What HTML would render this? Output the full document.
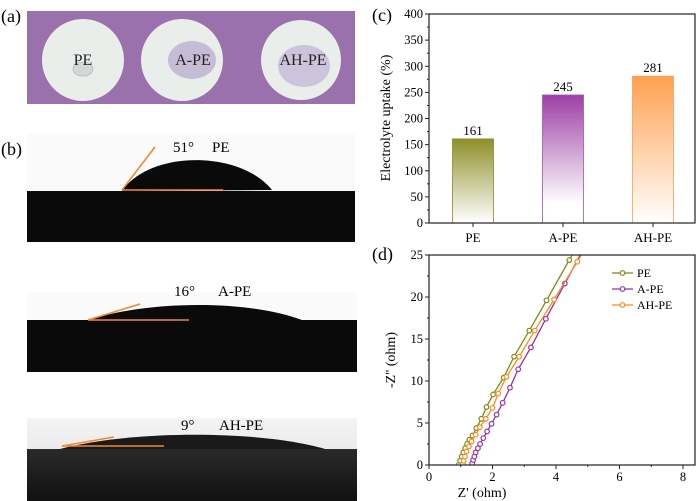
<!DOCTYPE html>
<html><head><meta charset="utf-8"><style>
body{margin:0;background:#fff;}
svg{display:block;font-family:"Liberation Serif",serif;}
</style></head><body>
<svg id="fig" width="700" height="501" viewBox="0 0 700 501" xmlns="http://www.w3.org/2000/svg">
<defs>
<linearGradient id="gPE" x1="0" y1="0" x2="0" y2="1"><stop offset="0" stop-color="#8f8f2a"/><stop offset="1" stop-color="#ffffff"/></linearGradient>
<linearGradient id="gA" x1="0" y1="0" x2="0" y2="1"><stop offset="0" stop-color="#9d3fa6"/><stop offset="0.85" stop-color="#ffffff"/></linearGradient>
<linearGradient id="gAH" x1="0" y1="0" x2="0" y2="1"><stop offset="0" stop-color="#ffa050"/><stop offset="1" stop-color="#ffffff"/></linearGradient>
<linearGradient id="gBg3" x1="0" y1="0" x2="0" y2="1"><stop offset="0" stop-color="#f4f4f4"/><stop offset="1" stop-color="#dcdcdc"/></linearGradient>
<linearGradient id="gBlk3" x1="0" y1="0" x2="0" y2="1"><stop offset="0" stop-color="#2a2a2a"/><stop offset="1" stop-color="#111"/></linearGradient>
<clipPath id="clipD"><rect x="429" y="255" width="266" height="210"/></clipPath>
</defs>

<text x="1" y="22" font-size="18">(a)</text>
<g>
<rect x="27" y="11" width="328" height="93" fill="#9a70ad"/>
<circle cx="83" cy="60" r="41" fill="#e9eeeb"/>
<circle cx="182" cy="60" r="41" fill="#e9eeeb"/>
<circle cx="301" cy="60" r="40" fill="#e9eeeb"/>
<ellipse cx="83" cy="69" rx="10" ry="7" fill="#d2d7d7" stroke="#aab" stroke-width="0.6"/>
<ellipse cx="192" cy="60" rx="24" ry="19" fill="#c6bcd6"/>
<ellipse cx="304" cy="66" rx="26" ry="21" fill="#cdc4dc"/>
<text x="83" y="65" font-size="16" text-anchor="middle" fill="#222">PE</text>
<text x="193" y="65" font-size="16" text-anchor="middle" fill="#222">A-PE</text>
<text x="303" y="65" font-size="16" text-anchor="middle" fill="#222">AH-PE</text>
</g>

<text x="1" y="155" font-size="18">(b)</text>
<g>
<rect x="27" y="134" width="328" height="108" fill="#fafafa"/>
<rect x="27" y="191" width="328" height="51" fill="#0a0a0a"/>
<path d="M122 191 C150 150 240 150 272 190 Z" fill="#0a0a0a"/>
<line x1="122" y1="190" x2="155" y2="147" stroke="#f08a30" stroke-width="1.6"/>
<line x1="122" y1="190" x2="223" y2="190" stroke="#f08a30" stroke-width="1.6"/>
<text x="173" y="152" font-size="15">51°</text><text x="212" y="152" font-size="15">PE</text>
</g>
<g>
<rect x="27" y="292" width="330" height="80" fill="#fafafa"/>
<rect x="27" y="320" width="330" height="52" fill="#0a0a0a"/>
<path d="M88 320 C150 300 250 300 302 320 Z" fill="#0a0a0a"/>
<line x1="88" y1="320" x2="140" y2="304" stroke="#f08a30" stroke-width="1.6"/>
<line x1="88" y1="320" x2="189" y2="320" stroke="#f08a30" stroke-width="1.6"/>
<text x="174" y="296" font-size="15">16°</text><text x="218" y="296" font-size="15">A-PE</text>
</g>
<g>
<rect x="27" y="418" width="330" height="83" fill="url(#gBg3)"/>
<rect x="27" y="449" width="330" height="52" fill="url(#gBlk3)"/>
<path d="M60 449 C130 430 260 430 325 449 Z" fill="#1a1a1a"/>
<line x1="62" y1="446" x2="114" y2="437" stroke="#f08a30" stroke-width="1.6"/>
<line x1="62" y1="446" x2="164" y2="446" stroke="#f08a30" stroke-width="1.6"/>
<text x="181" y="430" font-size="15">9°</text><text x="219" y="430" font-size="15">AH-PE</text>
</g>

<text x="372" y="21" font-size="18">(c)</text>
<g id="chartC"></g>
<text x="372" y="260" font-size="18">(d)</text>
<g id="chartD"></g>
</svg>
<script>
const barCategories = ["PE", "A-PE", "AH-PE"];
const barValues = [161, 245, 281];
const barTicks = [0, 50, 100, 150, 200, 250, 300, 350, 400];

const peX = [0.93,0.98,1.03,1.08,1.14,1.20,1.27,1.37,1.49,1.65,1.81,2.02,2.35,2.68,3.16,3.70,4.42];
const peY = [0,0.5,1,1.5,2,2.5,3,3.5,4.4,5.5,6.9,8.4,10.4,12.9,16,19.6,24.4];
const apeX = [1.36,1.39,1.43,1.47,1.54,1.61,1.71,1.83,1.97,2.13,2.32,2.55,2.81,3.21,3.68,4.28];
const apeY = [0.2,0.6,1,1.5,2,2.5,3.2,4,4.9,6,7.4,9.2,11.4,14,17.4,21.6];
const ahpeX = [1.07,1.09,1.13,1.18,1.26,1.34,1.47,1.60,1.79,2.00,2.18,2.44,2.84,3.33,3.94,4.67];
const ahpeY = [0.1,0.5,1,1.6,2.2,2.8,3.6,4.5,5.5,6.8,8.5,10.5,12.9,16,19.7,24.2];
const dXTicks = [0, 2, 4, 6, 8];
const dYTicks = [0, 5, 10, 15, 20, 25];
const seriesNames = ["PE", "A-PE", "AH-PE"];

const NS = "http://www.w3.org/2000/svg";
function mk(tag, attrs, parent, txt) {
  const e = document.createElementNS(NS, tag);
  for (const k in attrs) e.setAttribute(k, attrs[k]);
  if (txt !== undefined) e.textContent = txt;
  parent.appendChild(e);
  return e;
}

const gC = document.getElementById("chartC");
const cL = 429, cR = 695, cT = 14, cB = 223;
const cy = v => cB - (v / 400) * (cB - cT);
const cx = i => 473 + i * 90;
const grads = ["url(#gPE)", "url(#gA)", "url(#gAH)"];
const barStroke = ["#8a8a30", "#9a5aa0", "#f0a060"];
barValues.forEach((v, i) => {
  const r = mk("rect", {x: cx(i) - 20.5, y: cy(v), width: 41, height: cB - cy(v), fill: grads[i], stroke: barStroke[i], "stroke-width": 0.8}, gC);
  
  
  const t = mk("text", {x: cx(i), y: cy(v) - 4, "font-size": 13, "text-anchor": "middle"}, gC, String(v));
  
  
  const xl = mk("text", {x: cx(i), y: 242, "font-size": 13, "text-anchor": "middle"}, gC, barCategories[i]);
  
  
  mk("line", {x1: cx(i), y1: cB, x2: cx(i), y2: cB + 4, stroke: "#222"}, gC);
});
barTicks.forEach(v => {
  mk("line", {x1: cL - 4, y1: cy(v), x2: cL, y2: cy(v), stroke: "#222"}, gC);
  if (v < 400) mk("line", {x1: cL - 2, y1: cy(v + 25), x2: cL, y2: cy(v + 25), stroke: "#222"}, gC);
  const t = mk("text", {x: cL - 6, y: cy(v) + 4, "font-size": 12.5, "text-anchor": "end"}, gC, String(v));
  
  
});
const frC = mk("rect", {x: cL, y: cT, width: cR - cL, height: cB - cT, fill: "none", stroke: "#222", "stroke-width": 1.2}, gC);


const ytC = mk("text", {x: 0, y: 0, "font-size": 14, "text-anchor": "middle", transform: "translate(390,118) rotate(-90)"}, gC, "Electrolyte uptake (%)");



const gD = document.getElementById("chartD");
const dL = 429, dR = 695, dT = 255, dB = 465;
const dx = v => dL + v * (254 / 8);
const dy = v => dB - (v / 25) * (dB - dT);
dXTicks.forEach(v => {
  mk("line", {x1: dx(v), y1: dB, x2: dx(v), y2: dB + 4, stroke: "#222"}, gD);
  mk("line", {x1: dx(v + 1), y1: dB, x2: dx(v + 1), y2: dB + 2, stroke: "#222"}, gD);
  const t = mk("text", {x: dx(v), y: 481, "font-size": 12.5, "text-anchor": "middle"}, gD, String(v));
  
  
});
dYTicks.forEach(v => {
  mk("line", {x1: dL - 4, y1: dy(v), x2: dL, y2: dy(v), stroke: "#222"}, gD);
  if (v < 25) mk("line", {x1: dL - 2, y1: dy(v + 2.5), x2: dL, y2: dy(v + 2.5), stroke: "#222"}, gD);
  const t = mk("text", {x: dL - 6, y: dy(v) + 4, "font-size": 12.5, "text-anchor": "end"}, gD, String(v));
  
  
});
const colors = ["#7f8a12", "#9b2fa8", "#ff8a1c"];
const XS = [peX, apeX, ahpeX], YS = [peY, apeY, ahpeY];
const plotG = mk("g", {"clip-path": "url(#clipD)"}, gD);
XS.forEach((xs, s) => {
  const ys = YS[s];
  const n = xs.length;
  // extend last segment to the top of the plot
  const slope = (xs[n-1] - xs[n-2]) / (ys[n-1] - ys[n-2]);
  const ext = dx(xs[n-1] + slope * (26 - ys[n-1])).toFixed(1) + "," + dy(26).toFixed(1);
  const pts = xs.map((x, i) => dx(x).toFixed(1) + "," + dy(ys[i]).toFixed(1)).join(" ") + " " + ext;
  const pl = mk("polyline", {points: pts, fill: "none", stroke: colors[s], "stroke-width": 1.3}, plotG);
  
  
  xs.forEach((x, i) => {
    const c = mk("circle", {cx: dx(x), cy: dy(ys[i]), r: 2.3, fill: "#fff", stroke: colors[s], "stroke-width": 1.2}, plotG);
    
    
  });
});
const frD = mk("rect", {x: dL, y: dT, width: dR - dL, height: dB - dT, fill: "none", stroke: "#222", "stroke-width": 1.2}, gD);


seriesNames.forEach((n, s) => {
  const y = 273 + s * 16;
  const lg = mk("g", {}, gD);
  
  
  mk("line", {x1: 612, y1: y, x2: 633, y2: y, stroke: colors[s], "stroke-width": 1.3}, lg);
  mk("circle", {cx: 622.5, cy: y, r: 2.3, fill: "#fff", stroke: colors[s], "stroke-width": 1.2}, lg);
  mk("text", {x: 637, y: y + 4, "font-size": 12}, lg, n);
});
const ytD = mk("text", {x: 0, y: 0, "font-size": 14, "text-anchor": "middle", transform: "translate(395,360) rotate(-90)"}, gD, "-Z'' (ohm)");


const xtD = mk("text", {x: 482, y: 497, "font-size": 14, "text-anchor": "middle"}, gD, "Z' (ohm)");


</script>
</body></html>
